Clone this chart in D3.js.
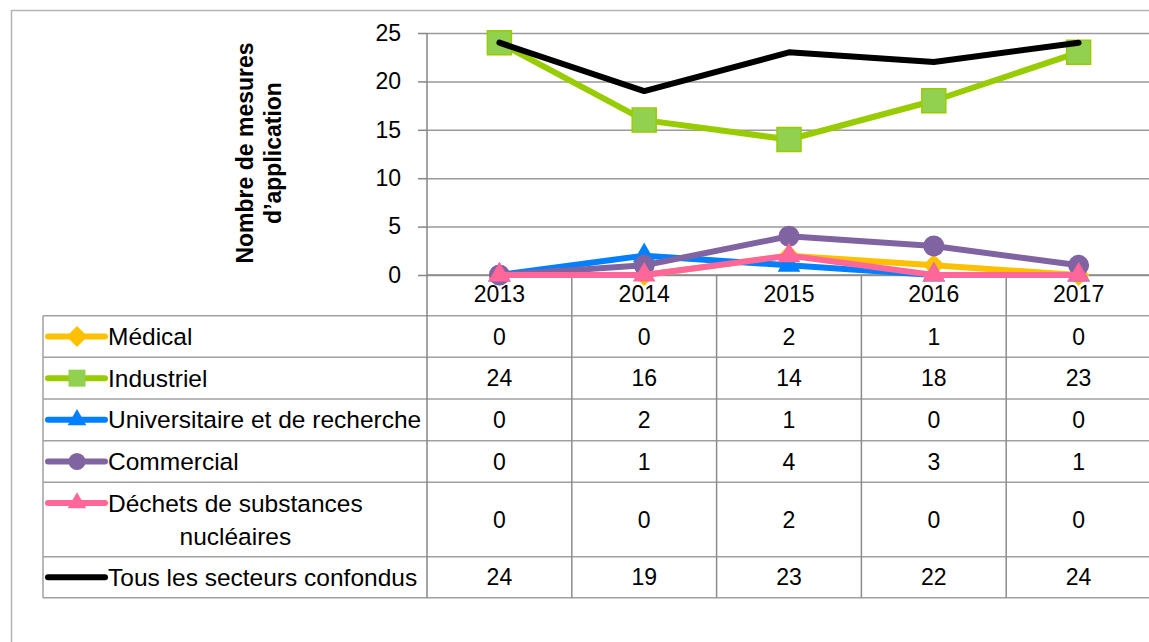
<!DOCTYPE html>
<html>
<head>
<meta charset="utf-8">
<script src="https://cdn.jsdelivr.net/npm/d3@7"></script>
<style>
  body { margin: 0; background: #fff; }
  text { font-family: "Liberation Sans", Arial, sans-serif; fill: #000; }
</style>
</head>
<body>
<div id="chart"></div>
<script>
// data
const years = ['2013', '2014', '2015', '2016', '2017']
const medical = [0, 0, 2, 1, 0]
const industriel = [24, 16, 14, 18, 23]
const universitaire = [0, 2, 1, 0, 0]
const commercial = [0, 1, 4, 3, 1]
const dechets = [0, 0, 2, 0, 0]
const total = [24, 19, 23, 22, 24]
const yTicks = [0, 5, 10, 15, 20, 25]
const seriesNames = ['Médical', 'Industriel', 'Universitaire et de recherche', 'Commercial',
  'Déchets de substances|nucléaires', 'Tous les secteurs confondus']

// canvas
const width = 1149,
  height = 642
const plotLeft = 427,
  plotRight = 1151,
  plotTop = 33,
  plotBottom = 275
const tableLeft = 43
const rowLines = [315.7, 357.3, 399, 440.7, 482.3, 556.7, 597.7]
const legendFont = '24.5px'

const series = [
  { name: seriesNames[0], values: medical, color: '#FFC000', marker: d3.symbolSquare, rot: 45, fill: '#FFC000', size: 196, lsize: 225 },
  { name: seriesNames[1], values: industriel, color: '#99CC00', marker: d3.symbolSquare, rot: 0, fill: '#92D050', size: 576, lsize: 289 },
  { name: seriesNames[2], values: universitaire, color: '#0080FF', marker: d3.symbolTriangle, rot: 0, fill: '#0080FF', size: 175, lsize: 150 },
  { name: seriesNames[3], values: commercial, color: '#8064A2', marker: d3.symbolCircle, rot: 0, fill: '#8064A2', size: 300, lsize: 230 },
  { name: seriesNames[4], values: dechets, color: '#FF6699', marker: d3.symbolTriangle, rot: 0, fill: '#FF6699', size: 175, lsize: 150 },
  { name: seriesNames[5], values: total, color: '#000000', marker: null }
]

let svg = d3.select('#chart')
  .append('svg')
  .attr('width', width)
  .attr('height', height)

// outer frame
svg.append('rect')
  .attr('x', 11.5).attr('y', 10.5)
  .attr('width', 1200).attr('height', 700)
  .attr('fill', 'none')
  .attr('stroke', '#b4b4b4')
  .attr('stroke-width', 1.5)

const x = d3.scaleBand().domain(years).range([plotLeft, plotRight])
const y = d3.scaleLinear().domain([0, 25]).range([plotBottom, plotTop])

// gridlines
svg.append('g')
  .attr('transform', `translate(${plotLeft},0)`)
  .call(d3.axisLeft(y).tickValues(yTicks).tickSize(-(plotRight - plotLeft)).tickFormat(''))
  .call(g => g.select('.domain').remove())
  .selectAll('line').attr('stroke', '#9a9a9a').attr('stroke-width', 1.5)

// y axis
svg.append('g')
  .attr('transform', `translate(${plotLeft},0)`)
  .call(d3.axisLeft(y).tickValues(yTicks).tickSize(9).tickSizeOuter(0).tickPadding(17))
  .call(g => g.select('.domain').remove())
  .call(g => g.selectAll('line').attr('stroke', '#868686').attr('stroke-width', 1.5))
  .call(g => g.selectAll('text').style('font-size', '23px').attr('fill', '#000'))

// y axis title
let title = svg.append('text')
  .attr('transform', 'translate(253,153) rotate(-90)')
  .attr('text-anchor', 'middle')
  .style('font-size', '23px')
  .style('font-weight', 'bold')
title.append('tspan').attr('x', 0).attr('y', 0).text('Nombre de mesures')
title.append('tspan').attr('x', 0).attr('y', 28).text('d\u2019application')

// table grid
svg.append('g').selectAll('line')
  .data(rowLines)
  .enter()
  .append('line')
  .attr('x1', tableLeft).attr('x2', plotRight)
  .attr('y1', d => d).attr('y2', d => d)
  .attr('stroke', '#a0a0a0').attr('stroke-width', 1.5)

svg.append('line')
  .attr('x1', tableLeft).attr('x2', tableLeft)
  .attr('y1', rowLines[0]).attr('y2', rowLines[rowLines.length - 1])
  .attr('stroke', '#a0a0a0').attr('stroke-width', 1.5)

svg.append('g').selectAll('line')
  .data(years.slice(1))
  .enter()
  .append('line')
  .attr('x1', d => x(d)).attr('x2', d => x(d))
  .attr('y1', plotBottom).attr('y2', rowLines[rowLines.length - 1])
  .attr('stroke', '#8c8c8c').attr('stroke-width', 1.5)

// x axis line & vertical axis line
svg.append('line')
  .attr('x1', plotLeft).attr('x2', plotRight)
  .attr('y1', y(0)).attr('y2', y(0))
  .attr('stroke', '#868686').attr('stroke-width', 1.5)
svg.append('line')
  .attr('x1', plotLeft).attr('x2', plotLeft)
  .attr('y1', y(25)).attr('y2', rowLines[rowLines.length - 1])
  .attr('stroke', '#868686').attr('stroke-width', 1.5)

// x labels
svg.append('g')
  .attr('transform', `translate(0,${plotBottom})`)
  .call(d3.axisBottom(x).tickSize(0).tickPadding(11))
  .call(g => g.select('.domain').remove())
  .call(g => g.selectAll('text').style('font-size', '23px').attr('fill', '#000'))

// lines and markers
const line = d3.line()
  .x((d, i) => x(years[i]) + x.bandwidth() / 2)
  .y(d => y(d))

series.forEach(s => {
  svg.append('path')
    .datum(s.values)
    .attr('d', line)
    .attr('fill', 'none')
    .attr('stroke', s.color)
    .attr('stroke-width', 6)
    .attr('stroke-linejoin', 'round')
    .attr('stroke-linecap', 'round')
  if (s.marker) {
    svg.append('g').selectAll('path')
      .data(s.values)
      .enter()
      .append('path')
      .attr('d', d3.symbol().type(s.marker).size(s.size))
      .attr('transform', (d, i) => `translate(${x(years[i]) + x.bandwidth() / 2},${y(d)}) rotate(${s.rot})`)
      .attr('fill', s.fill)
      .attr('stroke', s.color)
      .attr('stroke-width', 1.5)
  }
})

// table rows: legend + values
series.forEach((s, r) => {
  const top = rowLines[r], bottom = rowLines[r + 1]
  const mid = (top + bottom) / 2
  const lines = s.name.split('|')
  const symY = lines.length > 1 ? mid - 16.5 : mid

  svg.append('line')
    .attr('x1', 48).attr('x2', 105)
    .attr('y1', symY).attr('y2', symY)
    .attr('stroke', s.color)
    .attr('stroke-width', 6)
    .attr('stroke-linecap', 'round')
  if (s.marker) {
    svg.append('path')
      .attr('d', d3.symbol().type(s.marker).size(s.lsize))
      .attr('transform', `translate(77,${symY}) rotate(${s.rot})`)
      .attr('fill', s.fill)
  }

  if (lines.length > 1) {
    // first line starts after the symbol, second line centred under it
    let t = svg.append('text')
      .attr('text-anchor', 'middle')
      .style('font-size', legendFont)
    let spans = lines.map((l, k) => t.append('tspan')
      .attr('y', mid - 16.5 + k * 33)
      .attr('dy', '0.35em')
      .text(l))
    const w = spans[0].node().getComputedTextLength()
    spans.forEach(sp => sp.attr('x', 108 + w / 2))
  } else {
    svg.append('text')
      .attr('x', 108)
      .attr('y', mid)
      .attr('dy', '0.35em')
      .style('font-size', legendFont)
      .text(s.name)
  }

  svg.append('g').selectAll('text')
    .data(s.values)
    .enter()
    .append('text')
    .attr('x', (d, i) => x(years[i]) + x.bandwidth() / 2)
    .attr('y', mid)
    .attr('dy', '0.35em')
    .attr('text-anchor', 'middle')
    .style('font-size', '23px')
    .text(d => d)
})
</script>
</body>
</html>
